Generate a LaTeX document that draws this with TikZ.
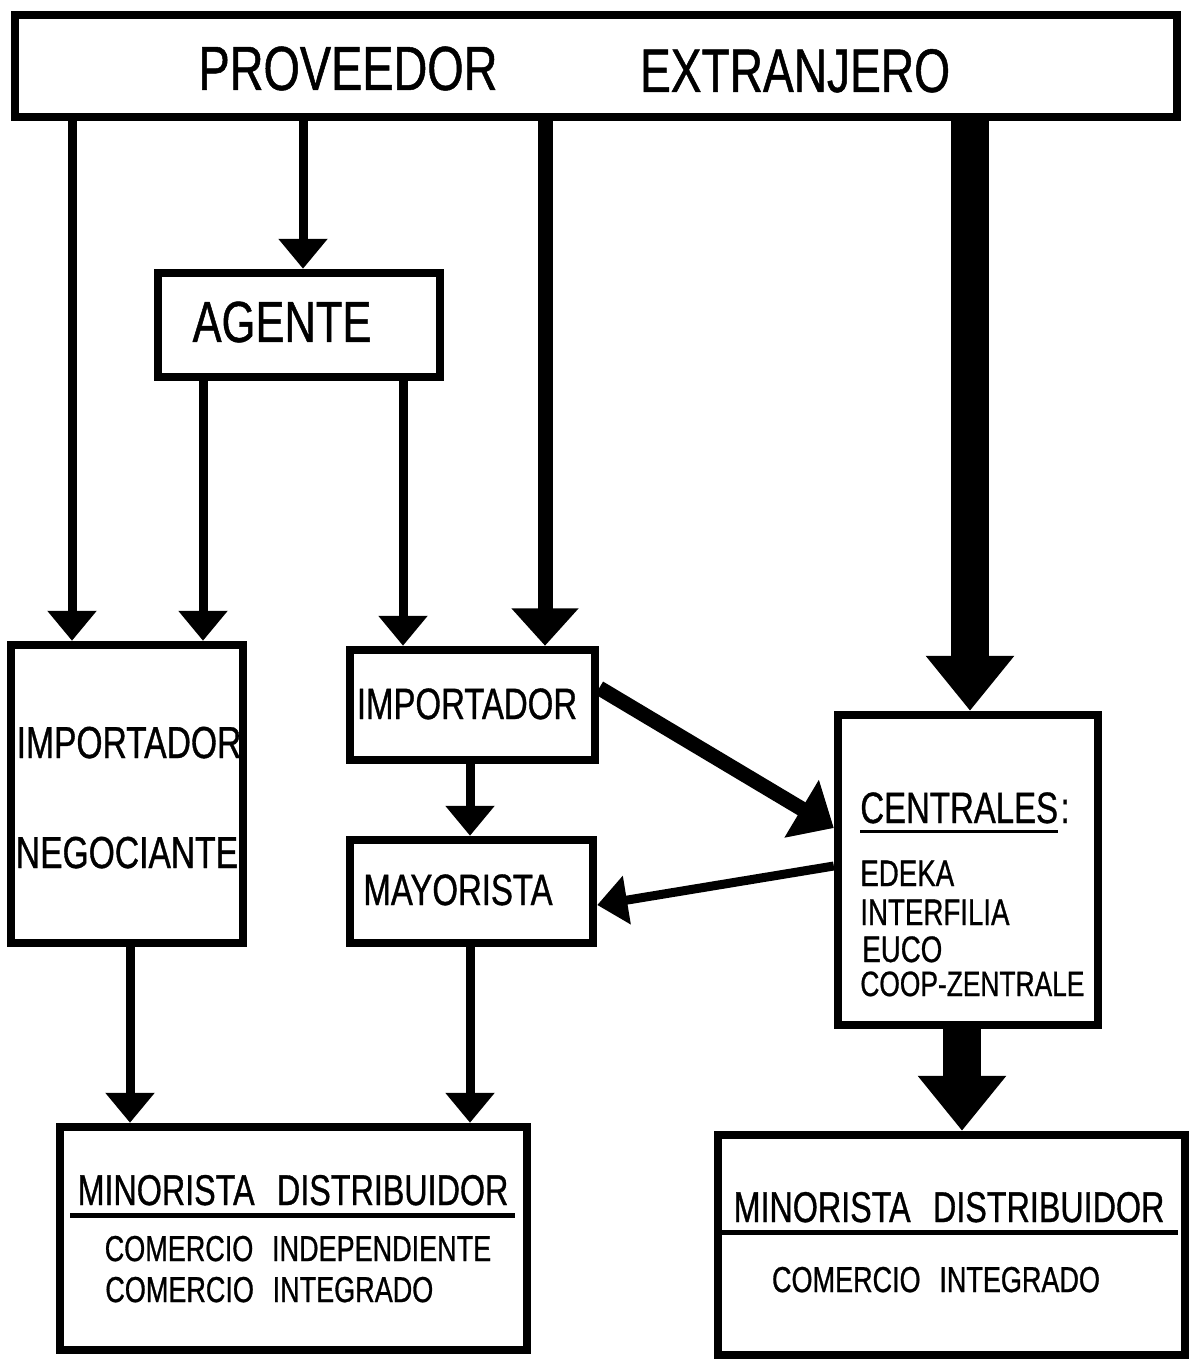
\documentclass[tikz,border=0pt]{standalone}
\usepackage{fontspec}
\setmainfont{Liberation Sans}[FakeStretch=0.75, FakeBold=0.8, WordSpace=2.5]
\usetikzlibrary{arrows.meta}

\begin{document}
\begin{tikzpicture}[x=0.02cm, y=-0.02cm,
  box/.style={draw, line width=0.17cm, inner sep=0pt, fill=white},
  lbl/.style={inner sep=0pt, anchor=base},
  lblw/.style={inner sep=0pt, anchor=base west},
  thinarr/.style={line width=0.18cm, -{Triangle[width=0.95cm, length=0.6cm]}},
  medarr/.style={line width=0.3cm, -{Triangle[width=1.3cm, length=0.75cm]}},
  heavyarr/.style={line width=0.76cm, -{Triangle[width=1.7cm, length=1.1cm]}},
  rule/.style={line width=0.1cm}
]
\useasboundingbox (0,0) rectangle (1192,1364);

% boxes
\node[box, line width=0.16cm, minimum width=23.24cm, minimum height=2.04cm] (prov) at (596,66) {};
\node[box, minimum width=5.64cm, minimum height=2.08cm] (agente) at (299,325) {};
\node[box, minimum width=4.64cm, minimum height=5.96cm] (impneg) at (127,794) {};
\node[box, minimum width=4.9cm, minimum height=2.2cm] (imp) at (472.5,705) {};
\node[box, minimum width=4.86cm, minimum height=2.06cm] (may) at (471.5,891.5) {};
\node[box, minimum width=5.2cm, minimum height=6.2cm] (cen) at (968,870) {};
\node[box, minimum width=9.34cm, minimum height=4.46cm] (minL) at (293.5,1238.5) {};
\node[box, minimum width=9.34cm, minimum height=4.4cm] (minR) at (951.5,1245) {};

% texts
\node[lbl, font=\fontsize{35.5}{40}\selectfont] (tProv) at (348,90) {PROVEEDOR};
\node[lbl, font=\fontsize{35}{40}\selectfont] (tExt) at (795,92) {EXTRANJERO};
\node[lbl, font=\fontsize{33}{38}\selectfont] (tAg) at (282,342) {AGENTE};
\node[lbl, font=\fontsize{25.5}{30}\selectfont] (tImpN) at (129,758) {IMPORTADOR};
\node[lbl, font=\fontsize{25.5}{30}\selectfont] (tNeg) at (127,868) {NEGOCIANTE};
\node[lbl, font=\fontsize{25}{30}\selectfont] (tImp) at (467,719) {IMPORTADOR};
\node[lbl, font=\fontsize{25}{30}\selectfont] (tMay) at (458,905) {MAYORISTA};
\node[lblw, font=\fontsize{25}{30}\selectfont] (tCen) at (860,823) {CENTRALES};
\node[lblw, font=\fontsize{25}{30}\selectfont] (tCol) at ([xshift=1pt]tCen.base east) {:};
\draw[line width=0.06cm] ([yshift=-5pt]tCen.base west) -- ([yshift=-5pt]tCen.base east);
\node[lblw, font=\fontsize{21}{25}\selectfont] (tEde) at (860,886) {EDEKA};
\node[lblw, font=\fontsize{21}{25}\selectfont] (tInt) at (860,925) {INTERFILIA};
\node[lblw, font=\fontsize{21}{25}\selectfont] (tEuc) at (862,962) {EUCO};
\node[lblw, font=\fontsize{20}{25}\selectfont] (tCoop) at (860,996) {COOP-ZENTRALE};

\node[lbl, font=\fontsize{24.5}{30}\selectfont] (tMinL) at (293,1205) {MINORISTA DISTRIBUIDOR};
\draw[rule] (70,1215) -- (515,1215);
\node[lbl, font=\fontsize{20.5}{25}\selectfont] (tIndL) at (298,1261) {COMERCIO INDEPENDIENTE};
\node[lblw, font=\fontsize{20.5}{25}\selectfont] (tIntL) at (105,1302) {COMERCIO INTEGRADO};

\node[lbl, font=\fontsize{24.5}{30}\selectfont] (tMinR) at (949,1222) {MINORISTA DISTRIBUIDOR};
\draw[rule] (722,1232) -- (1178,1232);
\node[lbl, font=\fontsize{20.5}{25}\selectfont] (tIntR) at (936,1292) {COMERCIO INTEGRADO};

% x / y guides for the connectors
\coordinate (xa) at (72,0);
\coordinate (xb) at (303,0);
\coordinate (xc) at (203,0);
\coordinate (xd) at (403,0);
\coordinate (xe) at (545,0);
\coordinate (xf) at (970,0);
\coordinate (xg) at (470,0);
\coordinate (xh) at (130,0);
\coordinate (xi) at (962,0);
\coordinate (ya) at (0,688);
\coordinate (yb) at (0,828);
\coordinate (yc) at (0,866);
\coordinate (yd) at (0,905);

% connectors
\draw[thinarr] (prov.south -| xa) -- (impneg.north -| xa);
\draw[thinarr] (prov.south -| xb) -- (agente.north -| xb);
\draw[thinarr] (agente.south -| xc) -- (impneg.north -| xc);
\draw[thinarr] (agente.south -| xd) -- (imp.north -| xd);
\draw[medarr] (prov.south -| xe) -- (imp.north -| xe);
\draw[heavyarr] (prov.south -| xf) -- (cen.north -| xf);
\draw[thinarr] (imp.south -| xg) -- (may.north -| xg);
\draw[medarr] (imp.east |- ya) -- (cen.west |- yb);
\draw[thinarr] (cen.west |- yc) -- (may.east |- yd);
\draw[thinarr] (impneg.south -| xh) -- (minL.north -| xh);
\draw[thinarr] (may.south -| xg) -- (minL.north -| xg);
\draw[heavyarr] (cen.south -| xi) -- (minR.north -| xi);
\end{tikzpicture}
\end{document}
